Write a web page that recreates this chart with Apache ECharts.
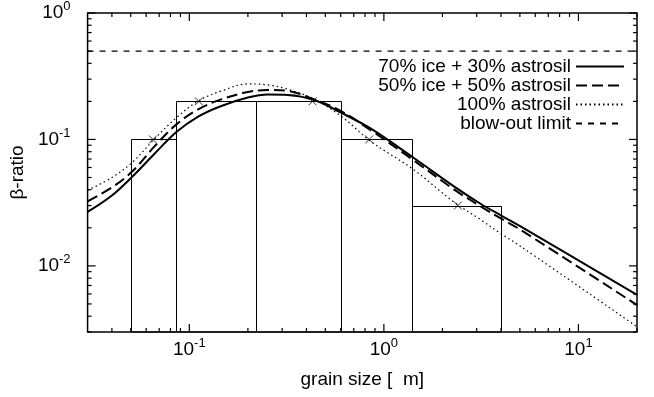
<!DOCTYPE html>
<html><head><meta charset="utf-8">
<script src="https://cdn.jsdelivr.net/npm/echarts@6/dist/echarts.min.js"></script>
<style>html,body{margin:0;padding:0;background:#fff}#c{width:654px;height:397px}</style>
</head><body><div id="c"></div>
<script>
// ---- data ----
const grainSize   = [0.03, 0.04, 0.0508, 0.0664, 0.0858, 0.111, 0.146, 0.2, 0.2535, 0.321, 0.439, 0.602, 0.858, 1.42, 2.29, 3.14, 4.03, 5.04, 20];
const ice70       = [0.0267, 0.036, 0.0506, 0.0774, 0.1143, 0.1514, 0.1837, 0.2143, 0.2264, 0.2249, 0.205, 0.163, 0.1216, 0.0716, 0.0426, 0.031, 0.0249, 0.0205, 0.0059];
const ice50       = [0.0324, 0.0417, 0.0557, 0.0885, 0.1316, 0.173, 0.2076, 0.2373, 0.2462, 0.2417, 0.2076, 0.1678, 0.118, 0.0685, 0.0403, 0.0296, 0.0235, 0.0193, 0.0049];
const astrosil100 = [0.0396, 0.050, 0.0657, 0.1013, 0.1486, 0.2014, 0.2417, 0.2748, 0.2698, 0.2494, 0.2076, 0.1531, 0.0964, 0.0578, 0.032, 0.0232, 0.0178, 0.0143, 0.0033];
const blowOutLimit = 0.5;
const binEdges   = [0.05, 0.085, 0.22, 0.6, 1.4, 4];
const binHeights = [0.1, 0.2, 0.2, 0.1, 0.03];
const crossX = [0.065, 0.112, 0.43, 0.84, 2.4];
const crossY = [0.1, 0.2, 0.2, 0.1, 0.03];
const xRange = [0.03, 20];
const yRange = [0.003, 1];
const xMajor = [0.1, 1, 10];
const xMinor = [0.04,0.05,0.06,0.07,0.08,0.09,0.2,0.3,0.4,0.5,0.6,0.7,0.8,0.9,2,3,4,5,6,7,8,9,20];
const yMajor = [0.01, 0.1, 1];
const yMinor = [0.003,0.004,0.005,0.006,0.007,0.008,0.009,0.02,0.03,0.04,0.05,0.06,0.07,0.08,0.09,0.2,0.3,0.4,0.5,0.6,0.7,0.8,0.9];
const names = ['70% ice + 30% astrosil', '50% ice + 50% astrosil', '100% astrosil', 'blow-out limit'];

// ---- chart ----
const FONT = '"Liberation Sans", Helvetica, Arial, sans-serif';
const FS = 19;
const pow = v => '{b|10}{s|' + Math.round(Math.log10(v)) + '}';
const rich = {
  b: {fontSize: FS, lineHeight: 26, color: '#000', fontFamily: FONT},
  s: {fontSize: 13, lineHeight: 13, verticalAlign: 'top', color: '#000', fontFamily: FONT}
};
const chart = echarts.init(document.getElementById('c'), null, {renderer: 'canvas'});
const mk = (xs, ys) => xs.map((x, i) => [x, ys[i]]);
const MAJ = 8, MIN = 4;
const TW = 1.2;
const tickData = [];
xMajor.concat(xMinor).forEach((v, i) => {
  const len = i < xMajor.length ? MAJ : MIN;
  tickData.push({value: [v, yRange[0]], symbolSize: [TW, len], symbolOffset: [0, -len / 2]});
  tickData.push({value: [v, yRange[1]], symbolSize: [TW, len], symbolOffset: [0, len / 2]});
});
yMajor.concat(yMinor).forEach((v, i) => {
  const len = i < yMajor.length ? MAJ : MIN;
  tickData.push({value: [xRange[0], v], symbolSize: [len, TW], symbolOffset: [len / 2, 0]});
  tickData.push({value: [xRange[1], v], symbolSize: [len, TW], symbolOffset: [-len / 2, 0]});
});
chart.setOption({
  animation: false,
  textStyle: {fontFamily: FONT, color: '#000'},
  grid: {left: 87, right: 17, top: 13, bottom: 65, containLabel: false, show: true,
    borderColor: '#000', borderWidth: 1.5, backgroundColor: 'transparent'},
  xAxis: [{
    type: 'log', logBase: 10, min: xRange[0], max: xRange[1], position: 'bottom',
    axisLine: {show: false}, axisTick: {show: false}, splitLine: {show: false},
    axisLabel: {show: true, customValues: xMajor, formatter: pow, rich: rich, margin: 5},
    name: 'grain size [  m]', nameLocation: 'middle', nameGap: 38,
    nameTextStyle: {fontSize: FS, color: '#000', fontFamily: FONT}
  }],
  yAxis: [{
    type: 'log', logBase: 10, min: yRange[0], max: yRange[1], position: 'left',
    axisLine: {show: false}, axisTick: {show: false}, splitLine: {show: false},
    axisLabel: {show: true, customValues: yMajor, formatter: pow, rich: rich, margin: 17},
    name: 'β-ratio', nameLocation: 'middle', nameGap: 56, nameRotate: 90,
    nameTextStyle: {fontSize: FS, color: '#000', fontFamily: FONT}
  }],
  legend: {
    data: names, orient: 'vertical', align: 'right', right: 29, top: 57, padding: 0,
    itemWidth: 48, itemHeight: 10, itemGap: 0,
    itemStyle: {opacity: 0},
    textStyle: {fontSize: FS, lineHeight: 19, color: '#000', fontFamily: FONT}
  },
  series: [
    {
      type: 'custom', name: 'bins', silent: true,
      data: binHeights.map((h, i) => [binEdges[i], binEdges[i + 1], h]),
      encode: {x: [0, 1], y: 2},
      renderItem: function (params, api) {
        const p0 = api.coord([api.value(0), yRange[0]]);
        const p1 = api.coord([api.value(1), api.value(2)]);
        const x0 = Math.round(p0[0]) + 0.5, x1 = Math.round(p1[0]) + 0.5, y1 = Math.round(p1[1]) + 0.5;
        return {type: 'rect', shape: {x: x0, y: y1, width: x1 - x0, height: p0[1] - y1},
          style: {fill: 'none', stroke: '#000', lineWidth: 1}};
      }
    },
    {type: 'scatter', name: 'ticks', silent: true, data: tickData, symbol: 'rect',
      itemStyle: {color: '#000', opacity: 1}, z: 5},
    {type: 'line', name: names[0], data: mk(grainSize, ice70), smooth: 0.35, symbol: 'none',
      lineStyle: {color: '#000', width: 2, type: 'solid'}, itemStyle: {color: '#000'}},
    {type: 'line', name: names[1], data: mk(grainSize, ice50), smooth: 0.35, symbol: 'none',
      lineStyle: {color: '#000', width: 2, type: [11, 5]}, itemStyle: {color: '#000'}},
    {type: 'line', name: names[2], data: mk(grainSize, astrosil100), smooth: 0.35, symbol: 'none',
      lineStyle: {color: '#000', width: 1.2, type: [1.5, 3]}, itemStyle: {color: '#000'}},
    {type: 'line', name: names[3], data: [[xRange[0], blowOutLimit], [xRange[1], blowOutLimit]], symbol: 'none',
      lineStyle: {color: '#000', width: 1.3, type: [6, 6]}, itemStyle: {color: '#000'}},
    {type: 'scatter', name: 'marks', data: mk(crossX, crossY), symbol: 'path://M0,0L10,10M10,0L0,10', symbolSize: 8,
      itemStyle: {color: 'none', borderColor: '#000', borderWidth: 1}, silent: true}
  ]
});
</script>
</body></html>
